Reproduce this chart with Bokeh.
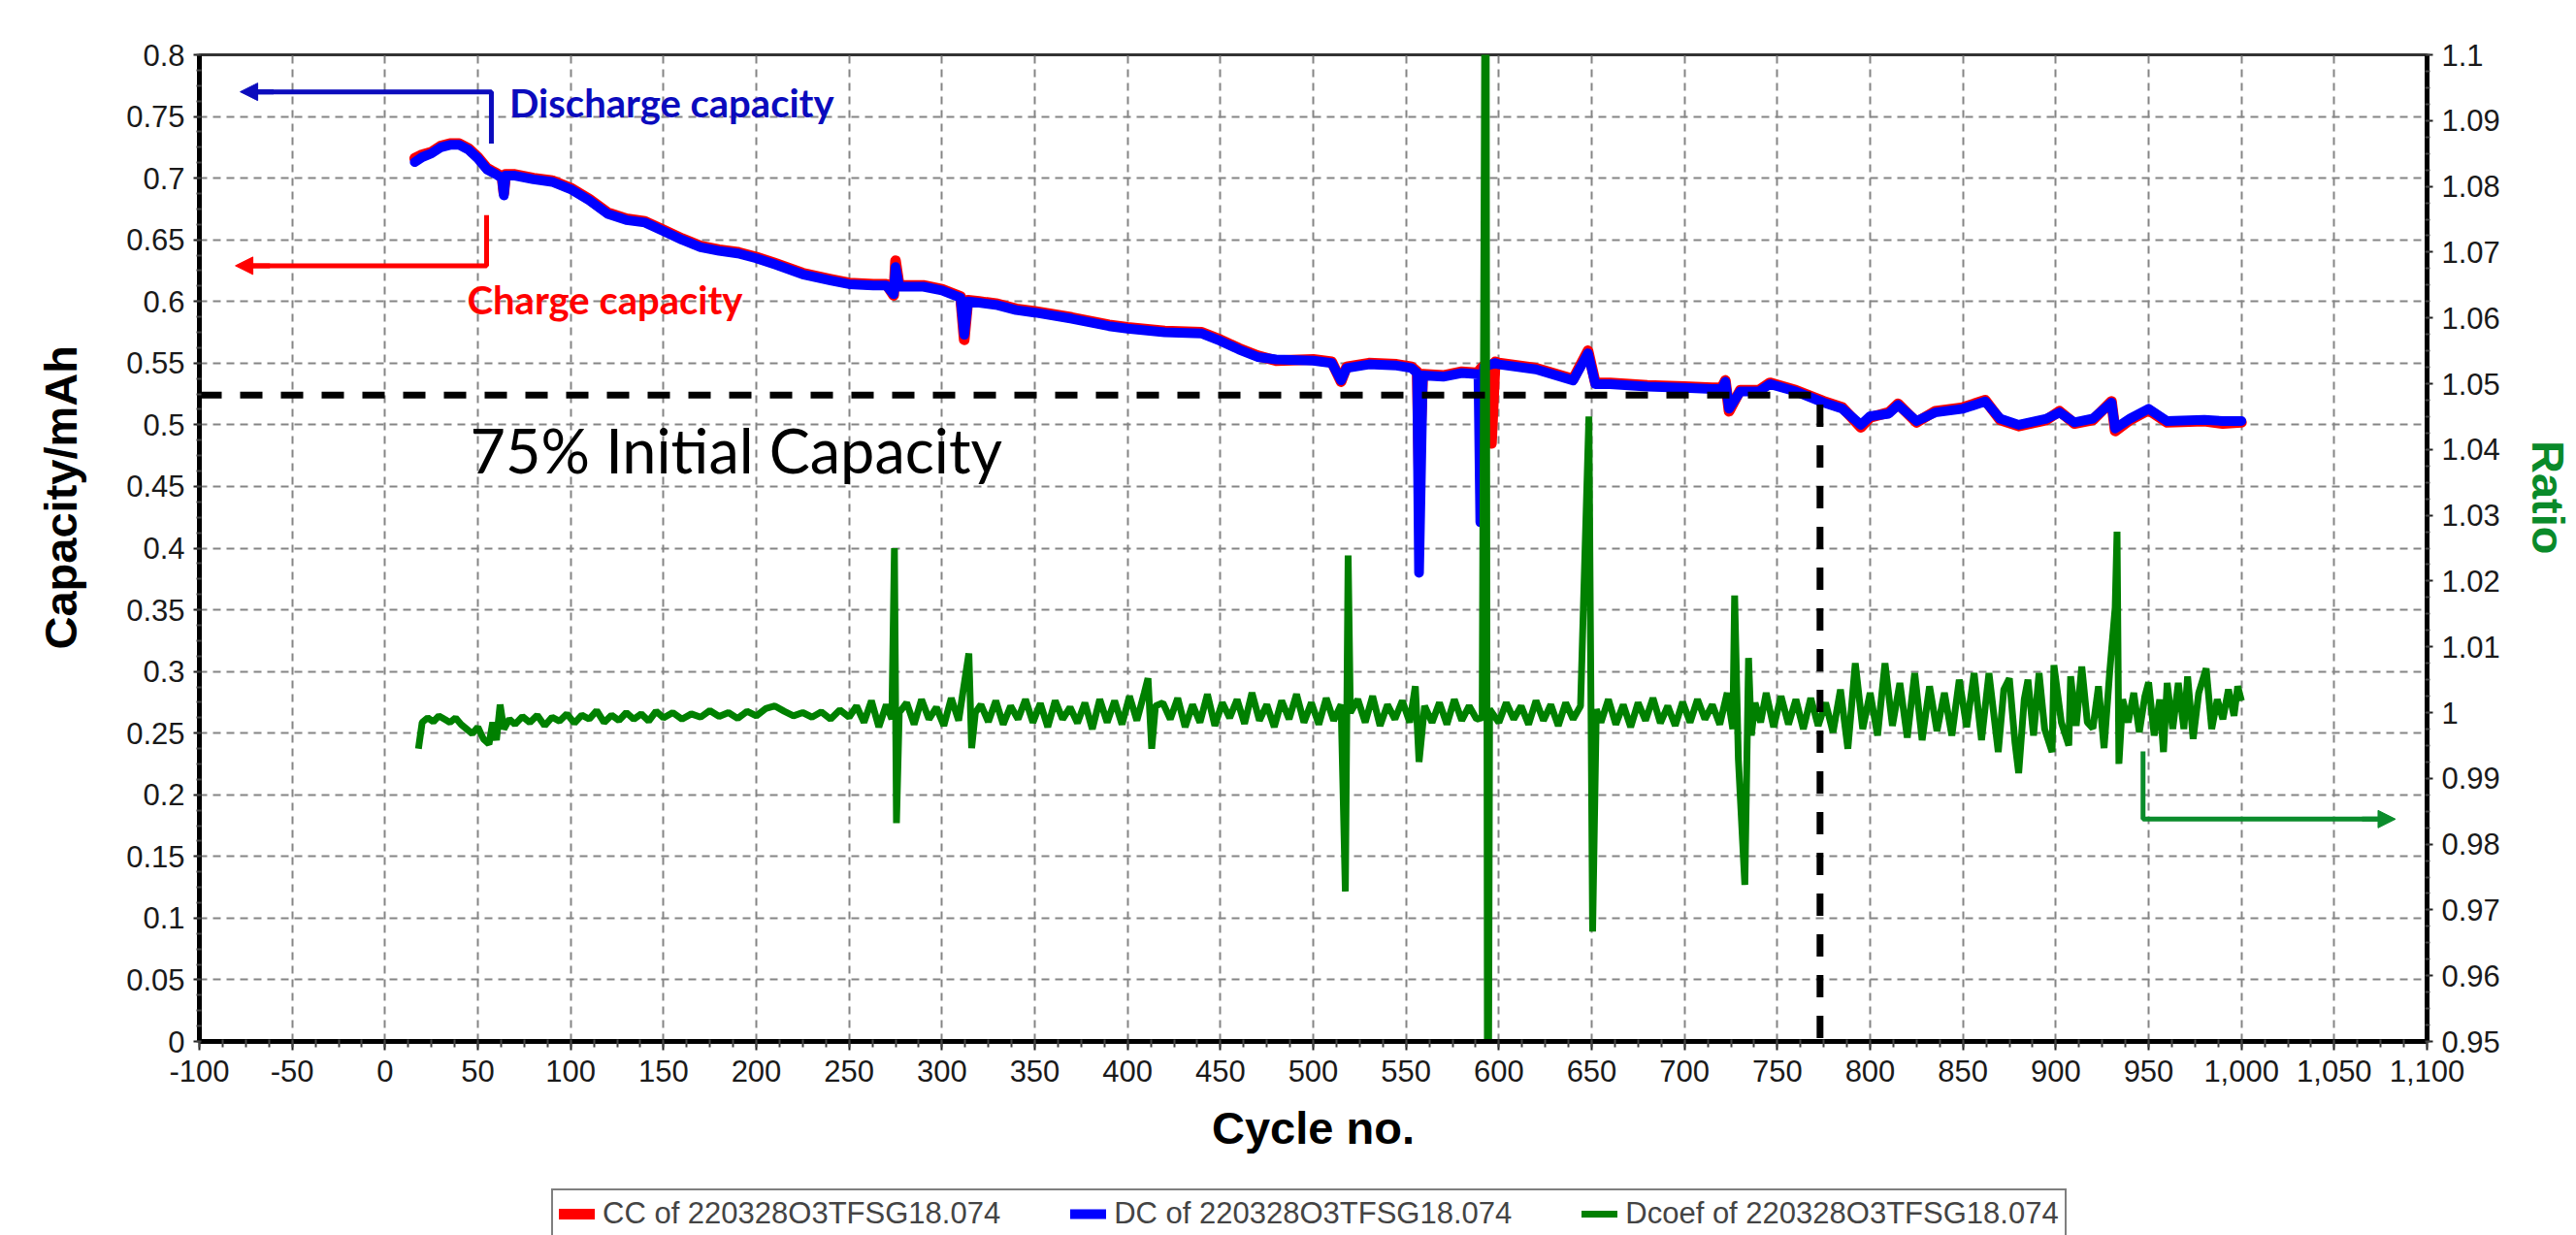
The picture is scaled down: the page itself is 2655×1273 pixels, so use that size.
from bokeh.plotting import figure
from bokeh.layouts import column
from bokeh.models import (Range1d, LinearAxis, FixedTicker, CustomJSTickFormatter,
                          Arrow, NormalHead, Legend, LegendItem)
from bokeh.core.properties import value
from bokeh.embed import file_html
from bokeh.resources import INLINE

# ---------------- data ----------------
cap_cycle = [16, 20, 25, 30, 35, 40, 45, 50, 55, 60,
             63, 64, 65, 70, 80, 90, 100, 110, 120, 130,
             140, 150, 160, 170, 180, 190, 200, 210, 225, 240,
             250, 263, 270, 274, 275, 277, 290, 300, 310, 312,
             314, 320, 330, 340, 350, 370, 390, 400, 420, 440,
             450, 460, 470, 480, 500, 510, 515, 518, 530, 545,
             553, 556, 557, 559, 570, 580, 589, 590, 592, 596,
             598, 600, 620, 640, 648, 652, 660, 680, 700, 715,
             720, 722, 724, 730, 740, 746, 760, 775, 785, 795,
             800, 810, 815, 825, 835, 850, 862, 870, 880, 895,
             902, 910, 920, 930, 932, 940, 950, 960, 980, 990,
             1000]
dc_capacity = [0.713, 0.717, 0.720, 0.725, 0.727, 0.727, 0.723, 0.716, 0.707, 0.703,
               0.700, 0.686, 0.702, 0.702, 0.699, 0.697, 0.691, 0.682, 0.671, 0.666,
               0.664, 0.657, 0.650, 0.644, 0.641, 0.639, 0.635, 0.630, 0.622, 0.617,
               0.614, 0.613, 0.613, 0.606, 0.628, 0.612, 0.612, 0.609, 0.603, 0.573,
               0.600, 0.599, 0.597, 0.593, 0.591, 0.586, 0.580, 0.578, 0.575, 0.574,
               0.568, 0.561, 0.555, 0.553, 0.552, 0.550, 0.536, 0.546, 0.549, 0.548,
               0.546, 0.542, 0.380, 0.540, 0.539, 0.542, 0.541, 0.421, 0.547, 0.549,
               0.550, 0.549, 0.545, 0.536, 0.558, 0.533, 0.533, 0.531, 0.530, 0.529,
               0.529, 0.535, 0.513, 0.527, 0.527, 0.533, 0.527, 0.518, 0.513, 0.500,
               0.507, 0.509, 0.516, 0.503, 0.510, 0.513, 0.519, 0.505, 0.500, 0.505,
               0.510, 0.502, 0.505, 0.518, 0.497, 0.505, 0.513, 0.503, 0.504, 0.503,
               0.503]
cc_capacity = [0.716, 0.719, 0.721, 0.726, 0.728, 0.728, 0.724, 0.717, 0.708, 0.704,
               0.701, 0.688, 0.703, 0.703, 0.700, 0.698, 0.692, 0.683, 0.672, 0.667,
               0.665, 0.658, 0.651, 0.645, 0.642, 0.640, 0.636, 0.631, 0.623, 0.618,
               0.615, 0.614, 0.614, 0.605, 0.633, 0.613, 0.613, 0.610, 0.604, 0.569,
               0.601, 0.600, 0.598, 0.594, 0.592, 0.587, 0.581, 0.579, 0.576, 0.575,
               0.569, 0.562, 0.556, 0.552, 0.553, 0.551, 0.535, 0.547, 0.550, 0.549,
               0.547, 0.543, 0.460, 0.541, 0.540, 0.543, 0.542, 0.545, 0.548, 0.485,
               0.551, 0.550, 0.546, 0.537, 0.560, 0.534, 0.534, 0.532, 0.531, 0.530,
               0.530, 0.536, 0.511, 0.528, 0.528, 0.534, 0.528, 0.519, 0.514, 0.498,
               0.506, 0.510, 0.517, 0.502, 0.511, 0.514, 0.520, 0.504, 0.499, 0.504,
               0.511, 0.501, 0.504, 0.519, 0.495, 0.504, 0.512, 0.502, 0.503, 0.501,
               0.502]

coef_cycle = [18, 20, 23, 26, 29, 32, 35, 38, 41, 44,
              47, 50, 53, 56, 58, 60, 62, 64, 67, 70,
              74, 78, 82, 86, 90, 94, 98, 102, 106, 110,
              114, 118, 122, 126, 130, 134, 138, 142, 146, 150,
              155, 160, 165, 170, 175, 180, 185, 190, 195, 200,
              205, 210, 215, 220, 225, 230, 235, 240, 245, 250,
              254, 258, 262, 266, 270, 273, 274.4, 275.5, 277, 281,
              285, 289, 293, 297, 301, 305, 309, 314.5, 316, 318,
              321, 325, 329, 333, 337, 341, 345, 349, 353, 357,
              361, 365, 369, 373, 377, 381, 385, 389, 393, 397,
              401, 405, 409, 411, 413, 415, 419, 423, 427, 431,
              435, 439, 443, 447, 451, 455, 459, 463, 467, 471,
              475, 479, 483, 487, 491, 495, 499, 503, 507, 511,
              515, 517.3, 518.8, 520, 524, 528, 532, 536, 540, 544,
              548, 552, 555, 557, 560, 564, 568, 572, 576, 580,
              584, 588, 591, 593, 594, 595, 600, 604, 608, 612,
              616, 620, 624, 628, 632, 636, 640, 644, 648.5, 650.5,
              652.5, 655, 659, 663, 667, 671, 675, 679, 683, 687,
              691, 695, 699, 703, 707, 711, 715, 719, 723, 726,
              727, 729, 732.5, 734.5, 736, 738, 741, 744, 748, 752,
              756, 760, 764, 768, 772, 776, 780, 784, 788, 792,
              796, 800, 804, 808, 812, 816, 820, 824, 828, 832,
              836, 840, 844, 848, 852, 856, 860, 864, 869, 872,
              875, 878, 880, 883, 885, 888, 891, 894, 898, 899,
              903, 907, 908, 911, 914, 917, 920, 923, 926, 929,
              932, 933, 934, 936, 939, 942, 945, 948, 950, 953,
              956, 958, 960, 963, 966, 969, 971, 974, 977, 981,
              984, 987, 990, 993, 996, 998, 1000]
dcoef_ratio = [0.9945, 0.9985, 0.9992, 0.9986, 0.9995, 0.9990, 0.9985, 0.9992, 0.9982, 0.9975,
               0.9968, 0.9978, 0.9960, 0.9952, 0.9985, 0.9958, 1.0012, 0.9975, 0.9990, 0.9982,
               0.9994, 0.9985, 0.9996, 0.9980, 0.9993, 0.9987, 0.9998, 0.9984, 0.9996, 0.9990,
               1.0003, 0.9985, 0.9996, 0.9988, 1.0000, 0.9990, 0.9998, 0.9987, 1.0002, 0.9992,
               1.0000, 0.9990, 0.9998, 0.9993, 1.0003, 0.9994, 1.0000, 0.9991, 1.0002, 0.9995,
               1.0006, 1.0010, 1.0002, 0.9995, 1.0000, 0.9993, 1.0001, 0.9990, 1.0004, 0.9993,
               1.0010, 0.9985, 1.0018, 0.9978, 1.0012, 0.9990, 1.0250, 0.9832, 1.0000, 1.0015,
               0.9982, 1.0020, 0.9990, 1.0008, 0.9980, 1.0022, 0.9988, 1.0090, 0.9946, 1.0000,
               1.0012, 0.9986, 1.0018, 0.9982, 1.0010, 0.9990, 1.0020, 0.9985, 1.0014, 0.9978,
               1.0018, 0.9990, 1.0008, 0.9984, 1.0015, 0.9975, 1.0020, 0.9985, 1.0018, 0.9982,
               1.0025, 0.9988, 1.0030, 1.0052, 0.9945, 1.0010, 1.0015, 0.9990, 1.0022, 0.9978,
               1.0012, 0.9985, 1.0028, 0.9980, 1.0015, 0.9992, 1.0020, 0.9983, 1.0030, 0.9988,
               1.0012, 0.9978, 1.0018, 0.9990, 1.0028, 0.9985, 1.0015, 0.9982, 1.0022, 0.9988,
               1.0012, 0.9728, 1.0239, 1.0000, 1.0020, 0.9985, 1.0025, 0.9980, 1.0012, 0.9990,
               1.0018, 0.9985, 1.0040, 0.9925, 1.0010, 0.9985, 1.0015, 0.9982, 1.0020, 0.9988,
               1.0010, 0.9990, 0.9992, 1.1500, 0.9000, 1.0005, 0.9985, 1.0015, 0.9990, 1.0010,
               0.9982, 1.0018, 0.9988, 1.0012, 0.9980, 1.0015, 0.9990, 1.0010, 1.0450, 0.9667,
               1.0005, 0.9985, 1.0020, 0.9982, 1.0012, 0.9978, 1.0015, 0.9988, 1.0022, 0.9984,
               1.0010, 0.9980, 1.0016, 0.9985, 1.0020, 0.9990, 1.0012, 0.9982, 1.0030, 0.9975,
               1.0178, 0.9930, 0.9738, 1.0083, 0.9965, 1.0015, 0.9985, 1.0030, 0.9978, 1.0025,
               0.9982, 1.0020, 0.9975, 1.0022, 0.9980, 1.0015, 0.9970, 1.0035, 0.9945, 1.0075,
               0.9975, 1.0030, 0.9965, 1.0075, 0.9980, 1.0045, 0.9962, 1.0060, 0.9958, 1.0040,
               0.9972, 1.0030, 0.9965, 1.0050, 0.9978, 1.0060, 0.9958, 1.0060, 0.9940, 1.0035,
               1.0052, 0.9955, 0.9908, 1.0020, 1.0050, 0.9965, 1.0060, 0.9975, 0.9940, 1.0072,
               0.9985, 0.9950, 1.0055, 0.9980, 1.0070, 0.9985, 0.9976, 1.0040, 0.9946, 1.0060,
               1.0160, 1.0275, 0.9922, 1.0020, 0.9985, 1.0030, 0.9970, 1.0025, 1.0046, 0.9965,
               1.0020, 0.9940, 1.0045, 0.9975, 1.0045, 0.9975, 1.0055, 0.9960, 1.0030, 1.0067,
               0.9975, 1.0020, 0.9990, 1.0035, 0.9995, 1.0040, 1.0018]

x_ticks = list(range(-100, 1101, 50))
left_ticks = [round(0.05 * i, 2) for i in range(17)]
right_ticks = [round(0.95 + 0.01 * i, 2) for i in range(16)]

threshold_capacity = 0.524   # 75% of initial capacity
threshold_cycle = 773

series_names = ["CC of 220328O3TFSG18.074", "DC of 220328O3TFSG18.074", "Dcoef of 220328O3TFSG18.074"]
series_colors = ["#ff0000", "#0000ff", "#008000"]
series_widths = [11, 10, 7]

# ---------------- main figure ----------------
W = 2655
H_MAIN, H_LEG = 1210, 63
p = figure(width=W, height=H_MAIN, output_backend="svg", toolbar_location=None,
           x_range=Range1d(-100, 1100), y_range=Range1d(0, 0.8),
           min_border_left=205, min_border_right=152, min_border_top=56, min_border_bottom=137,
           background_fill_color="white", border_fill_color="white")
p.extra_y_ranges = {"ratio": Range1d(0.95, 1.1)}
p.outline_line_color = "#333333"
p.outline_line_width = 3

TICK_FONT = "Liberation Sans"
NB = "\u00a0"
num_fmt = CustomJSTickFormatter(code="return String(parseFloat(tick.toFixed(3)));")

xax = p.xaxis[0]
xax.ticker = FixedTicker(ticks=x_ticks, minor_ticks=[-100 + 12.5 * i for i in range(97)])
xax.formatter = CustomJSTickFormatter(code="return tick.toString().replace(/\\B(?=(\\d{3})+(?!\\d))/g, ',');")
xax.axis_label = "Cycle no."
xax.axis_label_standoff = 18

yax = p.yaxis[0]
yax.ticker = FixedTicker(ticks=left_ticks, minor_ticks=[0.0125 * i for i in range(65)])
yax.formatter = num_fmt
yax.axis_label = NB * 8 + "Capacity/mAh"
yax.axis_label_standoff = 38

rax = LinearAxis(y_range_name="ratio",
                 ticker=FixedTicker(ticks=right_ticks, minor_ticks=[0.95 + 0.0025 * i for i in range(61)]),
                 formatter=num_fmt, axis_label="Ratio" + NB * 8)
rax.axis_label_standoff = 20
rax.axis_label_text_color = "#0a8a2a"
p.add_layout(rax, "right")

for ax in (xax, yax, rax):
    ax.axis_line_width = 5
    ax.axis_line_color = "black"
    ax.major_tick_line_color = "#222222"
    ax.minor_tick_line_color = "#444444"
    ax.major_tick_line_width = 2
    ax.minor_tick_line_width = 2
    ax.major_label_text_font = TICK_FONT
    ax.major_label_text_font_size = "31px"
    ax.major_label_text_color = "#1a1a1a"
    ax.major_tick_in = 0
    ax.minor_tick_in = 2
    ax.axis_label_text_font = "Liberation Sans"
    ax.axis_label_text_font_style = "bold"
    ax.axis_label_text_font_size = "47px"
xax.axis_label_text_color = "black"
yax.axis_label_text_color = "black"
xax.major_tick_out = 9
xax.minor_tick_out = 6
xax.major_label_standoff = 10
for ax in (yax, rax):
    ax.major_tick_out = 6
    ax.minor_tick_out = 3
    ax.major_label_standoff = 9

for g in (p.xgrid[0], p.ygrid[0]):
    g.grid_line_color = "#858585"
    g.grid_line_width = 2
    g.grid_line_dash = "8 6"

# data lines
p.line(cap_cycle, cc_capacity, line_color=series_colors[0], line_width=series_widths[0],
       line_join="round", line_cap="round")
p.line(cap_cycle, dc_capacity, line_color=series_colors[1], line_width=series_widths[1],
       line_join="round", line_cap="round")
p.line(coef_cycle, dcoef_ratio, line_color=series_colors[2], line_width=series_widths[2],
       y_range_name="ratio")

# 75 % capacity guide
p.line([-100, threshold_cycle, threshold_cycle], [threshold_capacity, threshold_capacity, 0],
       line_color="black", line_width=7, line_dash="23 19")

# arrows
BLUE_A, RED_A, GREEN_A = "#0b0bbd", "#ff0000", "#0b8c2c"
p.line([57.3, 57.3, -70], [0.728, 0.770, 0.770], line_color=BLUE_A, line_width=5)
p.add_layout(Arrow(end=NormalHead(size=18, fill_color=BLUE_A, line_color=BLUE_A),
                   x_start=-60, y_start=0.770, x_end=-78, y_end=0.770, line_color=BLUE_A, line_width=5))
p.line([54.7, 54.7, -72], [0.670, 0.629, 0.629], line_color=RED_A, line_width=5)
p.add_layout(Arrow(end=NormalHead(size=18, fill_color=RED_A, line_color=RED_A),
                   x_start=-62, y_start=0.629, x_end=-80.6, y_end=0.629, line_color=RED_A, line_width=5))
p.line([947, 947, 1075], [0.9941, 0.9838, 0.9838], line_color=GREEN_A, line_width=5, y_range_name="ratio")
p.add_layout(Arrow(end=NormalHead(size=18, fill_color=GREEN_A, line_color=GREEN_A),
                   x_start=1065, y_start=0.9838, x_end=1083, y_end=0.9838, line_color=GREEN_A,
                   line_width=5, y_range_name="ratio"))

# annotation texts
p.text(x=[67], y=[0.761], text=["Discharge capacity"], text_color="#0b0bbd",
       text_font=value("Lato"), text_font_style="bold", text_font_size="40px",
       text_align="left", text_baseline="alphabetic")
p.text(x=[44.3], y=[0.601], text=["Charge capacity"], text_color="#ff0000",
       text_font=value("Lato"), text_font_style="bold", text_font_size="40px",
       text_align="left", text_baseline="alphabetic")
p.text(x=[45.8], y=[0.480], text=["75% Initial Capacity"], text_color="black",
       text_font=value("Lato"), text_font_size="63px",
       text_align="left", text_baseline="alphabetic")

# ---------------- legend strip ----------------
pl = figure(width=W, height=H_LEG, output_backend="svg", toolbar_location=None,
            x_range=Range1d(0, 1), y_range=Range1d(0, 1), x_axis_type=None, y_axis_type=None,
            min_border=0, background_fill_color="white", border_fill_color="white")
pl.grid.visible = False
pl.outline_line_color = None
items = []
for name, col, lw in zip(series_names, series_colors, series_widths):
    # the strip only carries legend swatches; its own points sit outside its view
    r = pl.line([-5, -4], [-5, -5], line_color=col, line_width=lw, line_cap="round")
    items.append(LegendItem(label=name, renderers=[r]))
legend = Legend(items=items, orientation="horizontal", location=(363, -4),
                label_text_font="Liberation Sans", label_text_font_size="31px",
                glyph_width=37, glyph_height=20, label_standoff=8, spacing=72,
                padding=6, margin=0, border_line_color="black", border_line_width=2,
                background_fill_color="white")
pl.add_layout(legend, "center")

layout = column(p, pl, spacing=0)
open("out.html", "w").write(file_html(layout, INLINE))
